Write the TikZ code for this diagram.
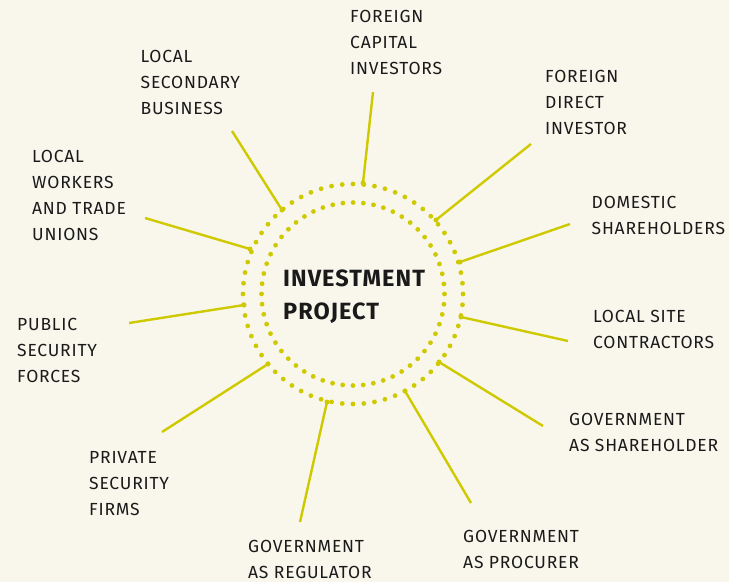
\documentclass[tikz,border=0pt]{standalone}
\usepackage{fontspec}
\setmainfont{Fira Sans}[LetterSpace=4.5]
\definecolor{bgc}{RGB}{249,247,236}
\definecolor{lime}{RGB}{206,201,0}
\definecolor{ink}{RGB}{26,26,26}
\tikzset{
  lbl/.style={anchor=north west, inner sep=0pt, align=left, text=ink,
    font=\fontsize{17.5}{26}\selectfont},
  spoke/.style={draw=lime, line width=2.4pt},
  dotring/.style={draw=lime, line width=4.8pt, line cap=round},
}
\begin{document}
\begin{tikzpicture}[x=1pt,y=-1pt]
\fill[bgc] (0,0) rectangle (729,582);
\useasboundingbox (0,0) rectangle (729,582);
% rings
\coordinate (c) at (353,294);
\draw[dotring, dash pattern=on 0pt off 10.8pt] (c) circle[radius=110];
\draw[dotring, dash pattern=on 0pt off 10.27pt] (c) circle[radius=91.5];
\node[inner sep=0pt, anchor=north west, align=left, text=ink,
  font=\bfseries\fontsize{23.5}{33}\selectfont] (center) at (283,270) {INVESTMENT\\PROJECT};
% labels
\node[lbl] (fci) at (350,10.5) {FOREIGN\\CAPITAL\\INVESTORS};
\node[lbl] (fdi) at (545,70.5) {FOREIGN\\DIRECT\\INVESTOR};
\node[lbl] (dom) at (591.5,196.5) {DOMESTIC\\SHAREHOLDERS};
\node[lbl] (lsc) at (593,310) {LOCAL SITE\\CONTRACTORS};
\node[lbl] (gsh) at (569,413) {GOVERNMENT\\AS SHAREHOLDER};
\node[lbl] (gpr) at (463,530) {GOVERNMENT\\AS PROCURER};
\node[lbl] (grg) at (248,540) {GOVERNMENT\\AS REGULATOR};
\node[lbl] (psf) at (89,451.5) {PRIVATE\\SECURITY\\FIRMS};
\node[lbl] (pub) at (17,318) {PUBLIC\\SECURITY\\FORCES};
\node[lbl] (lwu) at (32,150) {LOCAL\\WORKERS\\AND TRADE\\UNIONS};
\node[lbl] (lsb) at (140.5,50.5) {LOCAL\\SECONDARY\\BUSINESS};
% spoke ends
\coordinate (a1) at (373,92);   \coordinate (b1) at (363,183);
\coordinate (a2) at (531,144);  \coordinate (b2) at (436,220);
\coordinate (a3) at (570,224);  \coordinate (b3) at (460,262);
\coordinate (a4) at (568,341);  \coordinate (b4) at (461,317);
\coordinate (a5) at (543,426);  \coordinate (b5) at (439,362);
\coordinate (a6) at (471,503);  \coordinate (b6) at (405,391);
\coordinate (a7) at (300,522);  \coordinate (b7) at (327,402);
\coordinate (a8) at (162,432);  \coordinate (b8) at (268,364);
\coordinate (a9) at (129,323);  \coordinate (b9) at (244,305);
\coordinate (a10) at (145,218); \coordinate (b10) at (250,249);
\coordinate (a11) at (232,131); \coordinate (b11) at (282,210);
\foreach \i in {1,...,11}{
  \draw[spoke] (a\i) -- (b\i);
  \fill[lime] (b\i) circle[radius=2.5];
}
\end{tikzpicture}
\end{document}
